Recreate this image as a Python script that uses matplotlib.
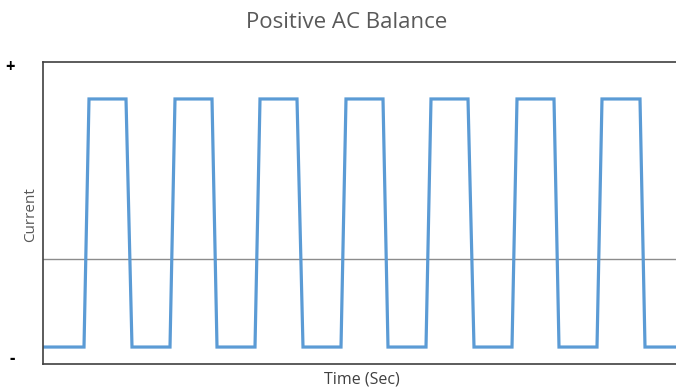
import matplotlib
matplotlib.use("Agg")
import matplotlib.pyplot as plt

# waveform (time in arbitrary units, current relative to zero line)
time = [0, 41, 46, 83, 89,
        127, 132, 169, 174,
        212, 217, 254, 260,
        298, 303, 340, 345,
        383, 388, 425, 431,
        469, 474, 511, 516,
        554, 559, 597, 602, 633]
current = [-0.55, -0.55, 1.0, 1.0, -0.55,
           -0.55, 1.0, 1.0, -0.55,
           -0.55, 1.0, 1.0, -0.55,
           -0.55, 1.0, 1.0, -0.55,
           -0.55, 1.0, 1.0, -0.55,
           -0.55, 1.0, 1.0, -0.55,
           -0.55, 1.0, 1.0, -0.55, -0.55]
tick_pos = [-0.61, 1.21]
tick_labels = ["-", "+"]

plt.rcParams["font.family"] = ["Open Sans", "DejaVu Sans"]

fig = plt.figure(figsize=(6.76, 3.92), dpi=100)
ax = fig.add_axes([43 / 676, 28 / 392, 1 - 43 / 676, 302 / 392])

ax.axhline(0, color="#8c8c8c", lw=1)
ax.plot(time, current, color="#5b9bd5", lw=2.3, solid_joinstyle="miter")

ax.set_xlim(0, 633)
ax.set_ylim(-0.656, 1.231)
ax.set_xticks([])
ax.set_yticks(tick_pos)
ax.set_yticklabels(tick_labels, fontsize=12, fontweight="bold")
ax.tick_params(axis="y", length=0, pad=20)

for side in ["left", "bottom", "top"]:
    ax.spines[side].set_color("#404040")
    ax.spines[side].set_linewidth(1.2)
ax.spines["right"].set_visible(False)

ax.set_xlabel("Time (Sec)", fontsize=11.5, color="#404040")
ax.xaxis.set_label_coords((362 - 43) / 633, -7 / 302)
ax.set_ylabel("Current", fontsize=11, color="#595959")
ax.yaxis.set_label_coords(-5 / 633, (364 - 215) / 302)

fig.text(347 / 676, 1 - 23 / 392, "Positive AC Balance", ha="center", va="center",
         fontsize=16, color="#595959")

fig.savefig("out.png", dpi=100)
